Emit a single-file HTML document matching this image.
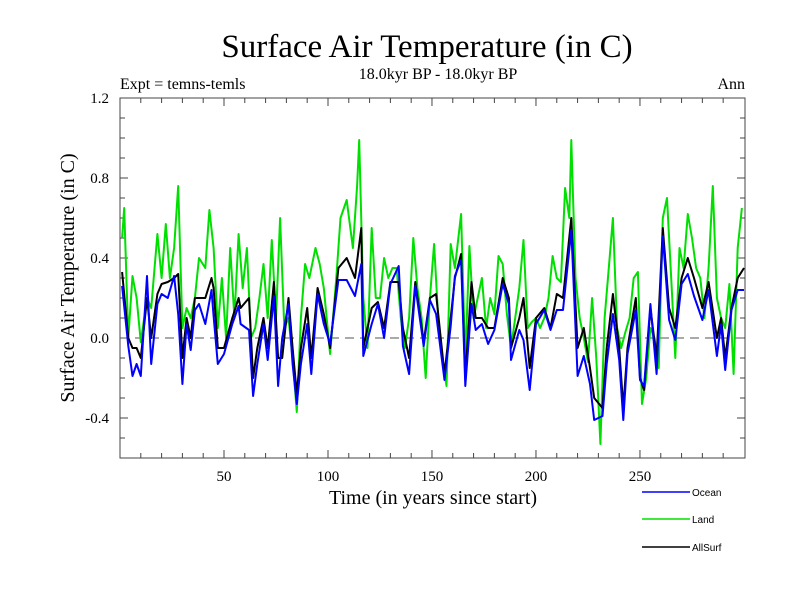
<!DOCTYPE html>
<html><head><meta charset="utf-8">
<style>
body{margin:0;background:#fff;}
svg{display:block;}
.serif{font-family:"Liberation Serif",serif;}
.sans{font-family:"Liberation Sans",sans-serif;}
</style></head>
<body>
<svg id="chart" width="800" height="600" xmlns="http://www.w3.org/2000/svg">
<rect width="800" height="600" fill="#fff"/>
<text class="serif" x="427" y="57" font-size="33" text-anchor="middle">Surface Air Temperature (in C)</text>
<text class="serif" x="438" y="79" font-size="16" text-anchor="middle">18.0kyr BP - 18.0kyr BP</text>
<text class="serif" x="120" y="89" font-size="16">Expt = temns-temls</text>
<text class="serif" x="745" y="89" font-size="16" text-anchor="end">Ann</text>
<text class="serif" x="0" y="0" font-size="20" text-anchor="middle" transform="translate(74,278) rotate(-90)">Surface Air Temperature (in C)</text>
<text class="serif" x="433" y="504" font-size="20" text-anchor="middle">Time (in years since start)</text>
<g id="axes"></g>
<g id="series"></g>
<g id="legend"></g>
</svg>
<script>
const xTicks=[50,100,150,200,250];
const yTicks=[-0.4,0.0,0.4,0.8,1.2];
const yTickLabels=["-0.4","0.0","0.4","0.8","1.2"];
const oceanT=[1,4,6,8,10,13,15,18,20,23,26,28,30,32,34,36,38,41,44,45,47,50,54,57,58,62,64,66,69,71,74,76,78,81,83,85,87,90,92,95,98,101,105,109,113,116,117,121,124,127,130,134,136,139,142,146,149,152,156,159,161,164,166,169,171,174,177,180,184,187,188,192,194,197,200,204,207,210,213,217,220,223,226,228,232,234,237,240,242,244,248,250,252,255,258,261,264,267,270,273,276,280,283,287,289,291,294,297,300];
const oceanV=[0.26,-0.04,-0.19,-0.13,-0.19,0.31,-0.13,0.17,0.22,0.2,0.31,0.12,-0.23,0.07,-0.06,0.14,0.17,0.07,0.24,0.11,-0.13,-0.08,0.07,0.16,0.07,0.04,-0.29,-0.13,0.07,-0.11,0.21,-0.24,0.0,0.17,-0.13,-0.33,-0.13,0.07,-0.18,0.22,0.07,-0.03,0.29,0.29,0.21,0.37,-0.09,0.07,0.17,0.0,0.27,0.36,-0.04,-0.18,0.26,-0.04,0.19,0.12,-0.21,0.06,0.31,0.39,-0.24,0.17,0.04,0.07,-0.03,0.04,0.27,0.17,-0.11,0.04,-0.01,-0.26,0.07,0.14,0.04,0.14,0.14,0.54,-0.19,-0.09,-0.23,-0.41,-0.39,-0.13,0.12,-0.11,-0.41,-0.08,0.14,-0.21,-0.24,0.17,-0.18,0.51,0.09,-0.01,0.27,0.32,0.21,0.09,0.24,-0.09,0.07,-0.16,0.14,0.24,0.24];
const allT=oceanT;
const allV=[0.33,0.0,-0.05,-0.05,-0.1,0.2,0.0,0.22,0.27,0.28,0.3,0.32,-0.1,0.1,0.0,0.2,0.2,0.2,0.3,0.25,-0.05,-0.05,0.1,0.2,0.15,0.2,-0.2,-0.05,0.1,-0.05,0.28,-0.1,-0.1,0.2,-0.05,-0.28,-0.05,0.15,-0.1,0.25,0.12,-0.05,0.35,0.4,0.3,0.55,-0.05,0.15,0.18,0.05,0.28,0.28,0.05,-0.1,0.28,-0.02,0.2,0.22,-0.18,0.1,0.3,0.42,-0.2,0.28,0.1,0.1,0.05,0.05,0.3,0.2,-0.05,0.1,0.2,-0.15,0.1,0.15,0.05,0.22,0.2,0.6,-0.05,0.05,-0.15,-0.3,-0.35,-0.05,0.22,-0.05,-0.35,-0.05,0.2,-0.2,-0.26,0.15,-0.1,0.55,0.15,0.05,0.3,0.4,0.3,0.15,0.28,0.0,0.1,-0.1,0.15,0.3,0.35];
const landT=[1,2,4,6,8,10,13,15,18,20,22,24,26,28,30,32,34,36,38,41,43,45,47,49,51,53,55,57,59,61,63,65,67,69,71,73,75,77,79,81,83,85,87,89,91,94,96,98,101,104,106,109,112,114,115,117,119,121,123,125,127,129,131,133,135,137,139,141,143,145,147,149,151,153,155,157,159,161,164,166,168,170,172,174,176,178,180,182,184,186,188,190,192,194,196,198,200,202,204,206,208,210,212,214,216,217,219,221,223,225,227,229,231,233,235,237,239,241,243,245,247,249,251,253,255,257,259,261,263,265,267,269,271,273,275,277,279,281,283,285,287,289,291,293,295,297,299];
const landV=[0.5,0.65,0.0,0.31,0.2,-0.02,0.2,0.15,0.52,0.3,0.57,0.3,0.45,0.76,0.05,0.15,0.1,0.2,0.4,0.35,0.64,0.45,0.05,0.3,0.0,0.45,0.1,0.52,0.25,0.45,0.0,0.05,0.2,0.37,0.1,0.49,0.1,0.6,0.05,0.1,-0.1,-0.37,0.1,0.37,0.3,0.45,0.37,0.25,-0.08,0.3,0.6,0.69,0.45,0.76,0.99,0.2,-0.05,0.55,0.2,0.2,0.4,0.3,0.35,0.35,0.1,-0.05,0.1,0.5,0.25,0.1,-0.2,0.2,0.47,0.1,-0.1,-0.24,0.47,0.35,0.62,-0.12,0.46,0.1,0.2,0.3,0.05,0.2,0.12,0.41,0.37,0.12,-0.05,0.1,0.25,0.49,0.05,0.08,0.1,0.05,0.1,0.2,0.41,0.3,0.28,0.75,0.6,0.99,0.3,0.1,0.0,-0.12,0.2,-0.1,-0.53,0.1,0.35,0.6,0.05,-0.05,0.03,0.1,0.3,0.33,-0.33,-0.2,0.05,0.0,-0.15,0.6,0.7,0.3,-0.1,0.45,0.35,0.62,0.5,0.35,0.3,0.1,0.35,0.76,0.2,0.1,0.05,0.27,-0.18,0.45,0.65];

const NS="http://www.w3.org/2000/svg";
const L=120,R=745,T=98,B=458;
const xMin=0,xMax=300.5,yMin=-0.6,yMax=1.2;
function xs(v){return L+(v-xMin)/(xMax-xMin)*(R-L);}
function ys(v){return B-(v-yMin)/(yMax-yMin)*(B-T);}
function mk(tag,attrs,parent){const e=document.createElementNS(NS,tag);for(const k in attrs)e.setAttribute(k,attrs[k]);parent.appendChild(e);return e;}
const axes=document.getElementById('axes');
const frame=mk('rect',{x:L,y:T,width:R-L,height:B-T,fill:'none',stroke:'#444','stroke-width':1},axes);


for(let v=10;v<300;v+=10){
  const big=v%50===0;const len=big?8:5;
  const t1=mk('line',{x1:xs(v),x2:xs(v),y1:B,y2:B-len,stroke:'#444'},axes);
  
  
  const t2=mk('line',{x1:xs(v),x2:xs(v),y1:T,y2:T+len,stroke:'#444'},axes);
  
  
}
for(let i=-5;i<12;i++){
  const v=i/10;const big=(i%4===0);const len=big?8:5;
  const t1=mk('line',{x1:L,x2:L+len,y1:ys(v),y2:ys(v),stroke:'#444'},axes);
  
  
  const t2=mk('line',{x1:R,x2:R-len,y1:ys(v),y2:ys(v),stroke:'#444'},axes);
  
  
}
xTicks.forEach(v=>{
  const t=mk('text',{x:xs(v),y:481,'font-size':15,'text-anchor':'middle','class':'serif'},axes);
  t.textContent=v;
  
  
});
yTicks.forEach((v,i)=>{
  const t=mk('text',{x:109,y:ys(v)+5,'font-size':15,'text-anchor':'end','class':'serif'},axes);
  t.textContent=yTickLabels[i];
  
  
});
const zl=mk('line',{x1:L,x2:R,y1:ys(0),y2:ys(0),stroke:'#555','stroke-dasharray':'9,6','stroke-width':1},axes);


const sg=document.getElementById('series');
function line(tv,vv,color,name){
  const d=tv.map((t,i)=>(i?'L':'M')+xs(t).toFixed(1)+','+ys(vv[i]).toFixed(1)).join('');
  const p=mk('path',{d:d,fill:'none',stroke:color,'stroke-width':2,'stroke-linejoin':'round'},sg);
  
  
}
line(landT,landV,'#00e000','land-line');
line(allT,allV,'#000000','allsurf-line');
line(oceanT,oceanV,'#0000ff','ocean-line');
const lg=document.getElementById('legend');
[['Ocean','#0000ff',492,'legend-ocean'],['Land','#00e000',519,'legend-land'],['AllSurf','#000',547,'legend-allsurf']].forEach(e=>{
  const g=mk('g',{},lg);
  
  
  mk('line',{x1:642,x2:690,y1:e[2],y2:e[2],stroke:e[1],'stroke-width':1.5},g);
  const t=mk('text',{x:692,y:e[2]+4,'font-size':10,'class':'sans'},g);
  t.textContent=e[0];
});
</script>
</body></html>
